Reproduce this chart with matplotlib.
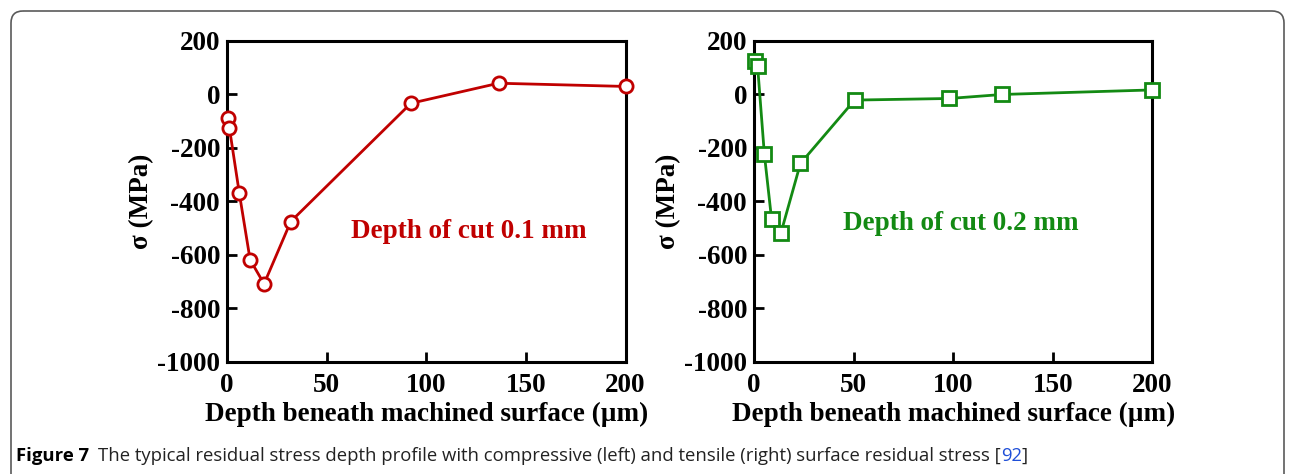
import matplotlib.pyplot as plt
from matplotlib.patches import FancyBboxPatch

RED = "#c00000"
GREEN = "#138a13"
W, H = 1295, 474

# compressive (left) profile
depth_left = [0.7, 1.2, 6.2, 11.6, 18.6, 32.0, 92.3, 136.3, 200.0]
stress_left = [-90, -126, -371, -619, -709, -476, -34, 41, 29]

# tensile (right) profile
depth_right = [0.5, 1.8, 5.2, 8.8, 13.5, 23.3, 50.5, 98.0, 124.6, 200.0]
stress_right = [124, 106, -224, -466, -519, -259, -22, -16, -1, 16]

x_ticks = [0, 50, 100, 150, 200]
y_ticks = [-1000, -800, -600, -400, -200, 0, 200]

plt.rcParams["font.family"] = ["Liberation Serif", "DejaVu Serif"]
plt.rcParams["font.weight"] = "bold"
plt.rcParams["axes.unicode_minus"] = False

fig = plt.figure(figsize=(W / 100, H / 100), dpi=100)
fig.patch.set_facecolor("white")

# frame around the figure (open at the bottom)
bg = fig.add_axes([0, 0, 1, 1])
bg.set_xlim(0, W)
bg.set_ylim(H, 0)
bg.axis("off")
bg.add_patch(
    FancyBboxPatch(
        (11, 11), W - 22, 600,
        boxstyle="round,pad=0,rounding_size=12",
        facecolor="none", edgecolor="#5a5a5a", linewidth=1.2,
    )
)

panels = [
    (227, depth_left, stress_left, RED, "o", "Depth of cut 0.1 mm", (0.607, 0.407)),
    (754, depth_right, stress_right, GREEN, "s", "Depth of cut 0.2 mm", (0.519, 0.432)),
]

for left_px, xs, ys, color, marker, note, note_pos in panels:
    ax = fig.add_axes([left_px / W, 1 - 361.7 / H, 398.5 / W, 321 / H])
    ax.plot(xs, ys, color=color, linewidth=2.0, marker=marker,
            markersize=9.5 if marker == "o" else 10,
            markerfacecolor="white", markeredgecolor=color, markeredgewidth=2.0,
            clip_on=False, zorder=3)
    ax.set_xlim(0, 200)
    ax.set_ylim(-1000, 200)
    ax.set_xticks(x_ticks)
    ax.set_yticks(y_ticks)
    for s in ax.spines.values():
        s.set_linewidth(2.2)
    ax.tick_params(axis="both", direction="in", length=7, width=2,
                   labelsize=19.5, top=False, right=False, pad=5)
    ax.tick_params(axis="x", pad=8)
    for lab in ax.get_xticklabels() + ax.get_yticklabels():
        lab.set_fontweight("bold")
    ax.set_xlabel("Depth beneath machined surface (µm)", fontsize=19.5,
                  fontweight="bold", labelpad=3)
    ax.set_ylabel("σ (MPa)", fontsize=19.5, fontweight="bold", labelpad=2)
    ax.text(note_pos[0], note_pos[1], note, transform=ax.transAxes,
            color=color, fontsize=19.5, fontweight="bold", ha="center", va="center")

cap_font = ["Open Sans", "DejaVu Sans"]
cap_y = 1 - 456 / H
t1 = fig.text(16 / W, cap_y, "Figure 7", fontsize=13.3, fontweight="bold",
              family=cap_font, ha="left", va="center")
fig.canvas.draw()
r = fig.canvas.get_renderer()
x = t1.get_window_extent(r).x1 + 9
t2 = fig.text(x / W, cap_y,
              "The typical residual stress depth profile with compressive (left) and "
              "tensile (right) surface residual stress [",
              fontsize=13.3, fontweight="normal", family=cap_font,
              ha="left", va="center", color="#222222")
x = t2.get_window_extent(r).x1
t3 = fig.text(x / W, cap_y, "92", fontsize=13.3, fontweight="normal", family=cap_font,
              ha="left", va="center", color="#1f4fd8")
x = t3.get_window_extent(r).x1
fig.text(x / W, cap_y, "]", fontsize=13.3, fontweight="normal", family=cap_font,
         ha="left", va="center", color="#222222")

fig.savefig("out.png", dpi=100, facecolor="white")
